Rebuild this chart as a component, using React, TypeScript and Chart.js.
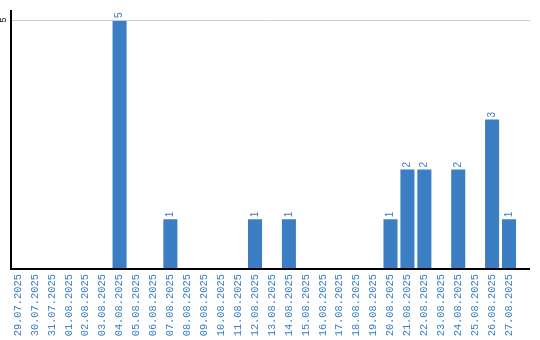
import React, { useEffect, useRef } from "react";
import { Chart, registerables } from "chart.js";

Chart.register(...registerables);

const categories = [
  "29.07.2025", "30.07.2025", "31.07.2025", "01.08.2025", "02.08.2025", "03.08.2025",
  "04.08.2025", "05.08.2025", "06.08.2025", "07.08.2025", "08.08.2025", "09.08.2025",
  "10.08.2025", "11.08.2025", "12.08.2025", "13.08.2025", "14.08.2025", "15.08.2025",
  "16.08.2025", "17.08.2025", "18.08.2025", "19.08.2025", "20.08.2025", "21.08.2025",
  "22.08.2025", "23.08.2025", "24.08.2025", "25.08.2025", "26.08.2025", "27.08.2025",
];
const values = [0, 0, 0, 0, 0, 0, 5, 0, 0, 1, 0, 0, 0, 0, 1, 0, 1, 0, 0, 0, 0, 0, 1, 2, 2, 0, 2, 0, 3, 1];
const yTickLabels = [5];

const BLUE = "#3b7ec4";

const overlay = {
  id: "overlay",
  afterDatasetsDraw(chart: any) {
    const ctx = chart.ctx;
    const area = chart.chartArea;
    const y = chart.scales.y;
    const x = chart.scales.x;
    const axisX = 11;
    const rightEnd = 530;
    ctx.save();
    ctx.strokeStyle = "#cccccc";
    ctx.lineWidth = 1;
    yTickLabels.forEach((v) => {
      const py = Math.round(y.getPixelForValue(v)) + 0.5;
      ctx.beginPath();
      ctx.moveTo(axisX, py);
      ctx.lineTo(rightEnd, py);
      ctx.stroke();
    });
    ctx.strokeStyle = "#000000";
    ctx.lineWidth = 2;
    ctx.beginPath();
    ctx.moveTo(axisX, area.top - 10);
    ctx.lineTo(axisX, area.bottom);
    ctx.lineTo(rightEnd, area.bottom);
    ctx.stroke();
    ctx.fillStyle = "#000000";
    ctx.font = "9px 'Liberation Sans', Arial, sans-serif";
    yTickLabels.forEach((v) => {
      const py = y.getPixelForValue(v);
      ctx.save();
      ctx.translate(4, py);
      ctx.rotate(-Math.PI / 2);
      ctx.textAlign = "center";
      ctx.textBaseline = "middle";
      ctx.fillText(String(v), 0, 0);
      ctx.restore();
    });
    ctx.fillStyle = BLUE;
    ctx.font = "10px 'Liberation Sans', Arial, sans-serif";
    values.forEach((v, i) => {
      if (!v) return;
      const px = x.getPixelForValue(i);
      const py = y.getPixelForValue(v);
      ctx.save();
      ctx.translate(px, py - 2);
      ctx.rotate(-Math.PI / 2);
      ctx.textAlign = "left";
      ctx.textBaseline = "middle";
      ctx.fillText(String(v), 0, 0);
      ctx.restore();
    });
    ctx.restore();
  },
};

export default function App() {
  const ref = useRef<HTMLCanvasElement | null>(null);
  useEffect(() => {
    document.body.style.margin = "0";
    const chart = new Chart(ref.current as HTMLCanvasElement, {
      type: "bar",
      data: {
        labels: categories,
        datasets: [
          {
            data: values,
            backgroundColor: BLUE,
            barPercentage: 0.83,
            categoryPercentage: 1,
          },
        ],
      },
      options: {
        animation: false,
        responsive: false,
        maintainAspectRatio: false,
        layout: { padding: { left: 9.5, top: 20, right: 22.5, bottom: 0 } },
        plugins: { legend: { display: false }, tooltip: { enabled: false } },
        scales: {
          x: {
            grid: { display: false, drawTicks: false },
            border: { display: false },
            ticks: {
              color: BLUE,
              font: { family: "'Liberation Mono', monospace", size: 10.4 },
              minRotation: 90,
              maxRotation: 90,
              autoSkip: false,
              padding: 5,
            },
            afterFit(scale: any) {
              scale.height = 71;
            },
          },
          y: {
            display: false,
            min: 0,
            max: 5,
          },
        },
      },
      plugins: [overlay],
    });
    return () => chart.destroy();
  }, []);
  return (
    <div style={{ width: 540, height: 340 }}>
      <canvas ref={ref} width={540} height={340} style={{ display: "block" }} />
    </div>
  );
}
